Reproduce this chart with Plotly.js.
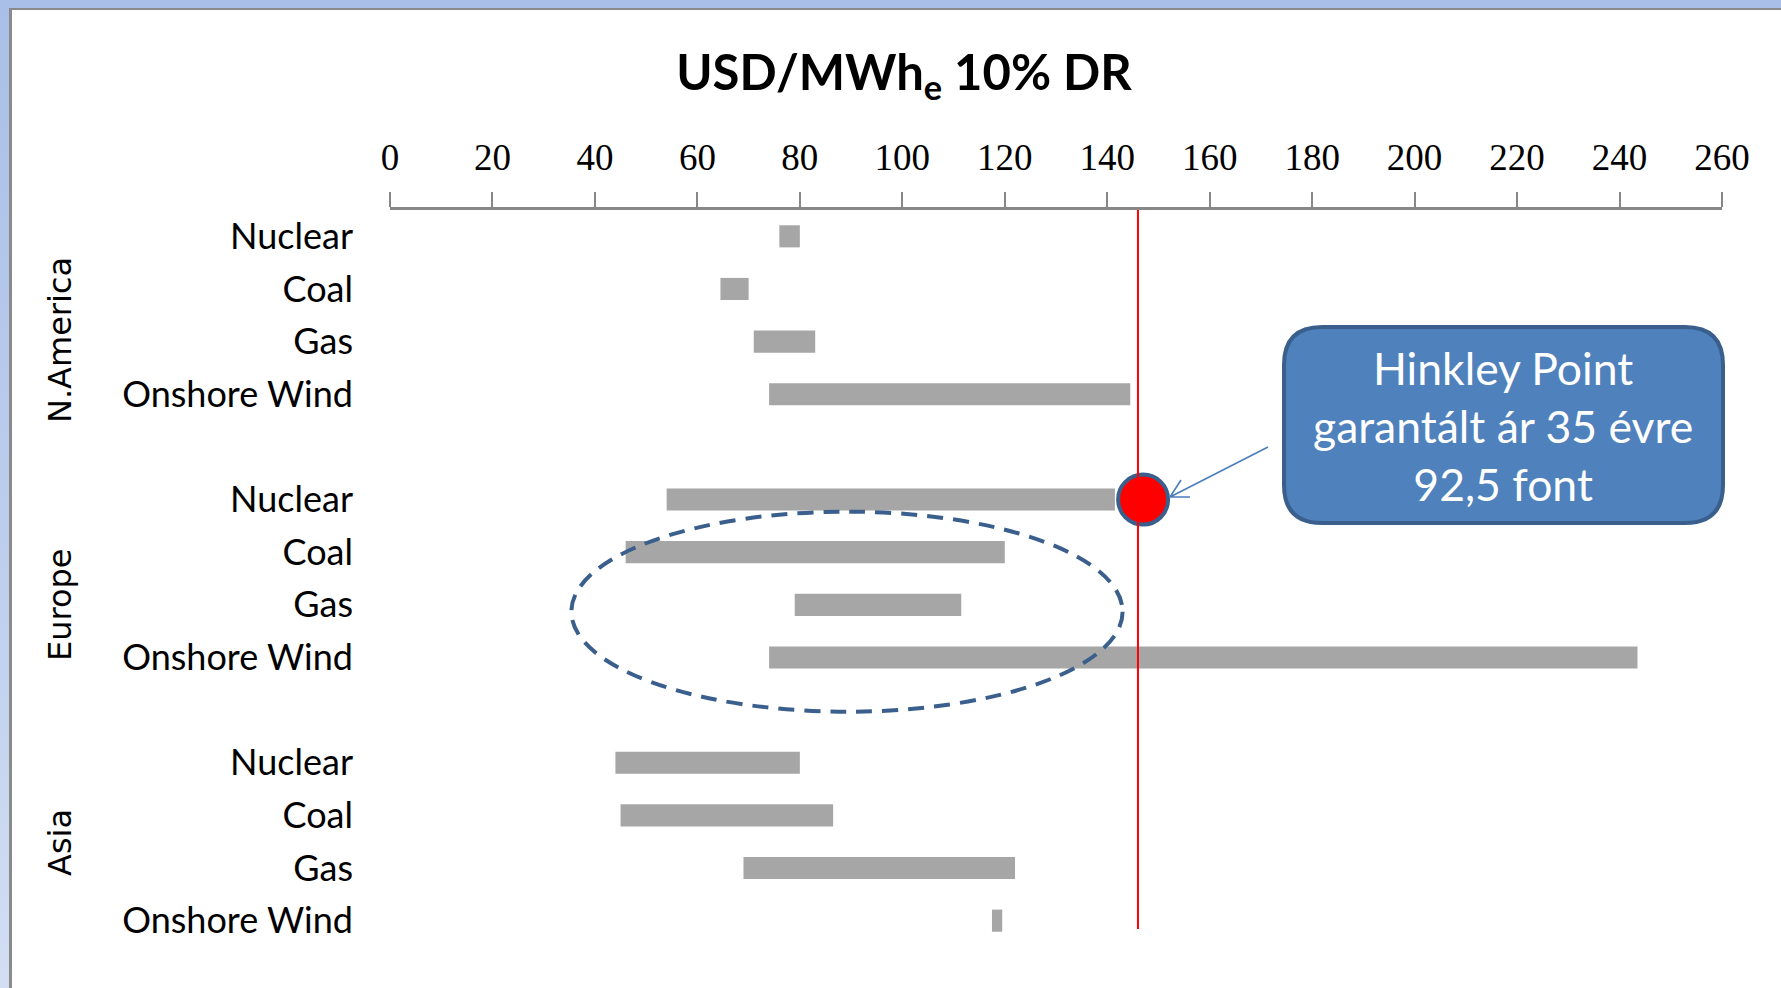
<!DOCTYPE html>
<html>
<head>
<meta charset="utf-8">
<script src="https://cdn.plot.ly/plotly-3.0.1.min.js"></script>
<style>
  html, body { margin:0; padding:0; width:1781px; height:988px; overflow:hidden; background:#fff; }
  #frame { position:absolute; left:0; top:0; width:1781px; height:988px;
           background: linear-gradient(to bottom, #A9BFE7 0%, #BFD0EE 60%, #D3DEF2 100%); }
  #inner { position:absolute; left:9px; top:8px; width:1772px; height:980px; background:#fff;
           border-left:3px solid #8A8A8A; border-top:2px solid #8A8A8A; box-sizing:border-box; }
  #chart { position:absolute; left:0; top:0; width:1781px; height:988px; }
</style>
</head>
<body>
<div id="frame"></div>
<div id="inner"></div>
<div id="chart"></div>
<script>
// ---- data ----
const regions = ["N.America", "Europe", "Asia"];
const technologies = ["Nuclear", "Coal", "Gas", "Onshore Wind"];
const lowNAmerica  = [76, 64.5, 71, 74];
const highNAmerica = [80, 70, 83, 144.5];
const lowEurope    = [54, 46, 79, 74];
const highEurope   = [141.5, 120, 111.5, 243.5];
const lowAsia      = [44, 45, 69, 117.5];
const highAsia     = [80, 86.5, 122, 119.5];
const xTickValues  = [0, 20, 40, 60, 80, 100, 120, 140, 160, 180, 200, 220, 240, 260];
const hinkleyLineUSD = 146;   // guaranteed price line
const hinkleyDotUSD  = 147;   // marker on Europe nuclear
const calloutText = "Hinkley Point<br>garantált ár 35 évre<br>92,5 font";
const titleText = "<b>USD/MWh<sub>e</sub> 10% DR</b>";

// ---- build rows ----
const lows = [lowNAmerica, lowEurope, lowAsia];
const highs = [highNAmerica, highEurope, highAsia];
const rowY = [], rowLabel = [], barBase = [], barLen = [];
regions.forEach((r, g) => {
  technologies.forEach((t, i) => {
    const y = g * (technologies.length + 1) + i;
    rowY.push(y);
    rowLabel.push(t);
    barBase.push(lows[g][i]);
    barLen.push(highs[g][i] - lows[g][i]);
  });
});
const lastRow = rowY[rowY.length - 1];

// pixel helpers for decorations (plot area 390..1722 x 210..947)
const PL = 390, PR = 1722, PT = 210, PB = 947;
const px2paperX = p => (p - PL) / (PR - PL);
const px2paperY = p => (PB - p) / (PB - PT);

const bars = {
  type: "bar", orientation: "h",
  y: rowY, x: barLen, base: barBase,
  width: 0.42,
  marker: { color: "#A6A6A6", line: { width: 0 } },
  hoverinfo: "skip"
};

const dot = {
  type: "scatter", mode: "markers",
  x: [hinkleyDotUSD], y: [1 * (technologies.length + 1) + 0],
  marker: { size: 50, color: "#FF0000", line: { color: "#3B5F8C", width: 4 } },
  cliponaxis: false, hoverinfo: "skip"
};

const groupLabelPos = [340, 605, 843];
const annotations = regions.map((r, g) => ({
  text: r, xref: "paper", yref: "paper",
  x: px2paperX(60), y: px2paperY(groupLabelPos[g]),
  xanchor: "center", yanchor: "middle", textangle: -90, showarrow: false,
  font: { family: "DejaVu Sans", size: 32, color: "#000" }
}));
annotations.push({
  text: calloutText, xref: "paper", yref: "paper",
  x: px2paperX(1503), y: px2paperY(425),
  xanchor: "center", yanchor: "middle", align: "center", showarrow: false,
  font: { family: "Lato", size: 44.5, color: "#FFFFFF" }
});

// rounded rectangle path (pixel units relative to anchor)
const hw = 219.5, hh = 98, rr = 38;
const rrPath = `M${-hw + rr},${-hh} L${hw - rr},${-hh} Q${hw},${-hh} ${hw},${-hh + rr} L${hw},${hh - rr} Q${hw},${hh} ${hw - rr},${hh} L${-hw + rr},${hh} Q${-hw},${hh} ${-hw},${hh - rr} L${-hw},${-hh + rr} Q${-hw},${-hh} ${-hw + rr},${-hh} Z`;

const shapes = [
  // dashed ellipse
  { type: "circle", xref: "x", yref: "y", x0: 35.4, x1: 143.0, y0: 5.23, y1: 9.03,
    line: { color: "#3B5F8C", width: 4, dash: "16px,10px" }, fillcolor: "rgba(0,0,0,0)", layer: "above" },
  // red guaranteed-price line
  { type: "line", xref: "x", yref: "y", x0: hinkleyLineUSD, x1: hinkleyLineUSD, y0: -0.5, y1: lastRow + 0.16,
    line: { color: "#FF0000", width: 2 }, layer: "above" },
  // callout box
  { type: "path", xref: "paper", yref: "paper", xsizemode: "pixel", ysizemode: "pixel",
    xanchor: px2paperX(1503.5), yanchor: px2paperY(425), path: rrPath,
    fillcolor: "#4F81BD", line: { color: "#3B5F8C", width: 4 }, layer: "above" },
  // arrow to dot
  { type: "path", xref: "paper", yref: "paper", xsizemode: "pixel", ysizemode: "pixel",
    xanchor: px2paperX(1170), yanchor: px2paperY(497),
    path: "M98,50 L0,0 M20,0 L0,0 L11,17",
    line: { color: "#4A7EBB", width: 1.6 }, layer: "above" }
];

const layout = {
  width: 1781, height: 988,
  margin: { l: PL, r: 1781 - PR, t: PT, b: 988 - PB, pad: 0 },
  paper_bgcolor: "rgba(0,0,0,0)", plot_bgcolor: "rgba(0,0,0,0)",
  showlegend: false,
  title: { text: titleText, xref: "container", yref: "container",
           x: 904 / 1781, xanchor: "center", y: 1 - 73 / 988, yanchor: "middle",
           font: { family: "Lato", size: 49, color: "#000" } },
  xaxis: {
    side: "top", range: [0, 260], tickvals: xTickValues, ticktext: xTickValues.map(String),
    showgrid: false, zeroline: false,
    showline: true, linecolor: "#878787", linewidth: 3,
    ticks: "outside", ticklen: 15, tickwidth: 2, tickcolor: "#878787",
    ticklabelstandoff: 7,
    tickfont: { family: "Liberation Serif", size: 37, color: "#000" },
    fixedrange: true
  },
  yaxis: {
    range: [lastRow + 0.5, -0.5], tickvals: rowY, ticktext: rowLabel,
    showgrid: false, zeroline: false, showline: false, ticks: "",
    ticklabelstandoff: 36,
    tickfont: { family: "Lato", size: 36, color: "#000" },
    fixedrange: true
  },
  shapes: shapes,
  annotations: annotations
};

Plotly.newPlot("chart", [bars, dot], layout, { displayModeBar: false, staticPlot: true });
</script>
</body>
</html>
